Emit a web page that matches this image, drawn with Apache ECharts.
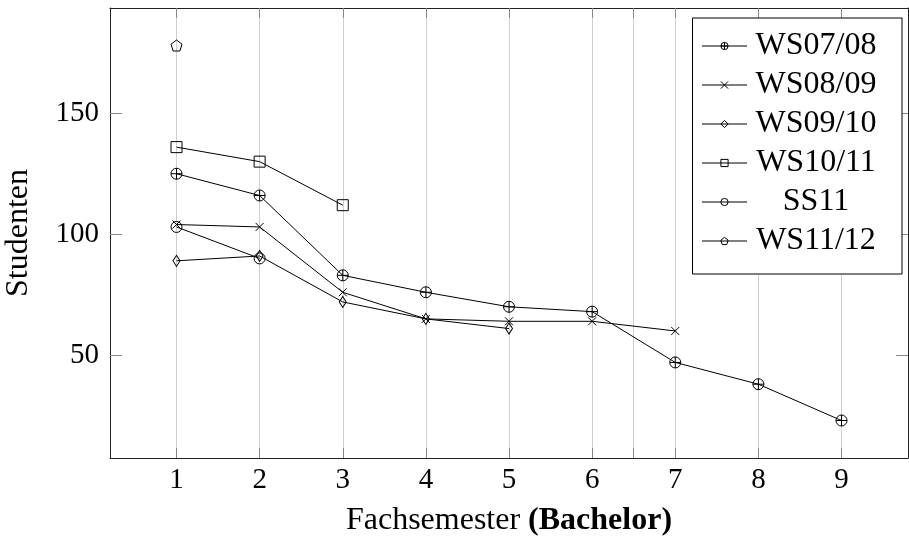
<!DOCTYPE html>
<html>
<head>
<meta charset="utf-8">
<script src="https://cdn.jsdelivr.net/npm/echarts@6/dist/echarts.min.js"></script>
<style>
html, body { margin: 0; padding: 0; background: #fff; }
#chart { width: 909px; height: 538px; }
</style>
</head>
<body>
<div id="chart"></div>
<script>
// Studenten je Fachsemester
var semesters = [1, 2, 3, 4, 5, 6, 7, 8, 9];
var ws0708 = [125, 116, 83, 76, 70, 68, 47, 38, 23];
var ws0809 = [104, 103, 76, 65, 64, 64, 60];
var ws0910 = [89, 91, 72, 65, 61];
var ws1011 = [136, 130, 112];
var ss11 = [103, 90];
var ws1112 = [178];
var seriesNames = ['WS07/08', 'WS08/09', 'WS09/10', 'WS10/11', 'SS11', 'WS11/12'];
var xTicks = [1, 2, 3, 4, 5, 6, 6.5, 7, 8, 9];
var yTicks = [50, 100, 150];

var font = 'Liberation Serif';

// Markierungen wie bei pgfplots
var marks = [
	{ symbol: 'path://M0,10A10,10,0,1,1,20,10A10,10,0,1,1,0,10Z M0,10L20,10 M10,0L10,20', size: 11 },
	{ symbol: 'path://M0,0L20,20 M20,0L0,20', size: 8 },
	{ symbol: 'path://M10,0L20,10L10,20L0,10Z', size: [7, 11] },
	{ symbol: 'path://M0,0L20,0L20,20L0,20Z', size: 11 },
	{ symbol: 'path://M0,10A10,10,0,1,1,20,10A10,10,0,1,1,0,10Z', size: 11 },
	{ symbol: 'path://M10,0L19.5,6.9L15.9,18.1L4.1,18.1L0.5,6.9Z', size: 11 }
];

function pairs(vals){
	var out = [];
	for (var i = 0; i < vals.length; i++) {
		out.push([semesters[i], vals[i]]);
	}
	return out;
}

var chart = echarts.init(document.getElementById('chart'), null, { renderer: 'canvas' });

var allData = [ws0708, ws0809, ws0910, ws1011, ss11, ws1112];
var series = [];
for (var k = 0; k < allData.length; k++) {
	series.push({
		name: seriesNames[k],
		type: 'line',
		data: pairs(allData[k]),
		symbol: marks[k].symbol,
		symbolSize: marks[k].size,
		showAllSymbol: true,
		lineStyle: { color: '#000', width: 1 },
		itemStyle: { color: 'rgba(0,0,0,0)', borderColor: '#000', borderWidth: 1 },
		emphasis: { disabled: true },
		animation: false
	});
}

var axisLineStyle = { color: '#222', width: 1 };
var tickStyle = { color: '#888', width: 1 };

var option = {
	backgroundColor: '#fff',
	animation: false,
	grid: { left: 110, right: 1, top: 8, bottom: 80, outerBoundsMode: 'none' },
	legend: {
		orient: 'vertical',
		right: 7,
		top: 18,
		padding: [12, 22, 17, 9],
		borderColor: '#000',
		borderWidth: 1,
		backgroundColor: '#fff',
		itemWidth: 45,
		itemHeight: 9,
		itemGap: 7,
		selectedMode: false,
		data: seriesNames,
		lineStyle: { color: '#000', width: 1 },
		itemStyle: { color: 'rgba(0,0,0,0)', borderColor: '#000', borderWidth: 1 },
		formatter: function(name){ return '{t|' + name + '}'; },
		textStyle: {
			fontFamily: font,
			fontSize: 32,
			color: '#000',
			rich: {
				t: { width: 128, align: 'center', fontFamily: font, fontSize: 32, lineHeight: 30, color: '#000' }
			}
		}
	},
	xAxis: [
		{
			type: 'value',
			min: 0.2,
			max: 9.8,
			name: 'Fachsemester {b|(Bachelor)}',
			nameLocation: 'middle',
			nameGap: 47,
			nameTextStyle: {
				fontFamily: font, fontSize: 32, color: '#000',
				rich: { b: { fontFamily: font, fontSize: 32, fontWeight: 'bold', color: '#000' } }
			},
			axisLine: { show: true, lineStyle: axisLineStyle },
			axisTick: { show: true, inside: true, length: 10, customValues: xTicks, lineStyle: tickStyle },
			axisLabel: { customValues: semesters, margin: 8, fontFamily: font, fontSize: 29, color: '#000' },
			splitLine: { show: true, lineStyle: { color: '#cfcfcf', width: 1 } }
		},
		{
			type: 'value',
			position: 'top',
			min: 0.2,
			max: 9.8,
			axisLine: { show: true, lineStyle: axisLineStyle },
			axisTick: { show: true, inside: true, length: 10, customValues: xTicks, lineStyle: tickStyle },
			axisLabel: { show: false },
			splitLine: { show: false }
		}
	],
	yAxis: [
		{
			type: 'value',
			min: 7.5,
			max: 193.5,
			name: 'Studenten',
			nameLocation: 'middle',
			nameGap: 75,
			nameTextStyle: { fontFamily: font, fontSize: 32, color: '#000' },
			axisLine: { show: true, lineStyle: axisLineStyle },
			axisTick: { show: true, inside: true, length: 12, customValues: yTicks, lineStyle: tickStyle },
			axisLabel: { customValues: yTicks, margin: 11, fontFamily: font, fontSize: 29, color: '#000' },
			splitLine: { show: false }
		},
		{
			type: 'value',
			position: 'right',
			min: 7.5,
			max: 193.5,
			axisLine: { show: true, lineStyle: axisLineStyle },
			axisTick: { show: true, inside: true, length: 12, customValues: yTicks, lineStyle: tickStyle },
			axisLabel: { show: false },
			splitLine: { show: false }
		}
	],
	series: series
};
chart.setOption(option);
</script>
</body>
</html>
